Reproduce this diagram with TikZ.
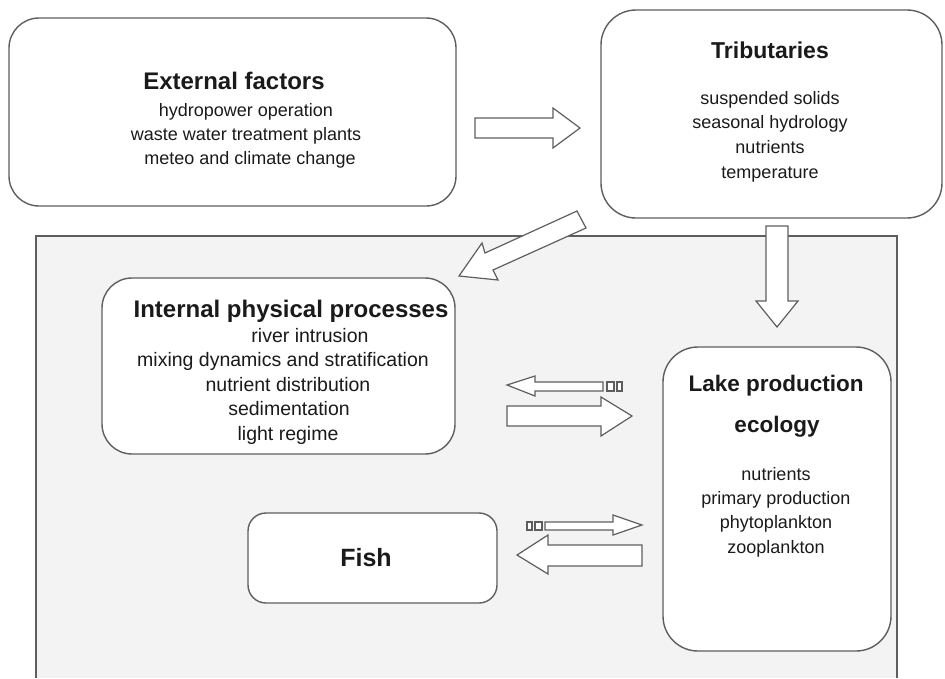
\documentclass[tikz,border=0pt]{standalone}
\usepackage{fontspec}
\setmainfont{Liberation Sans}
\definecolor{edge}{HTML}{5E5E5E}
\definecolor{bgfill}{HTML}{F3F3F3}
\definecolor{ink}{HTML}{1A1A1A}
\begin{document}
\begin{tikzpicture}[x=1pt,y=-1pt,
  box/.style={draw=edge, line width=1.4pt, fill=white, rounded corners=#1, inner sep=0pt},
  blk/.style={draw=edge, line width=1.2pt, fill=white, line join=miter},
  ttl/.style={anchor=base, text=ink, font=\fontsize{#1}{26}\selectfont\bfseries, inner sep=0pt},
  ttl/.default=22,
  txt/.style={anchor=base, text=ink, font=\fontsize{#1}{22}\selectfont, inner sep=0pt},
  txt/.default=18]
\useasboundingbox (0,0) rectangle (945,678);
% background frame
\fill[bgfill] (36,236) rectangle (897,678);
\draw[edge, line width=1.8pt] (36,678) -- (36,236) -- (897,236) -- (897,678);
% boxes
\node[box=30pt, minimum width=447pt, minimum height=188pt] (ext) at (232.5,112) {};
\node[box=35pt, minimum width=341pt, minimum height=208pt] (trib) at (771.5,114) {};
\node[box=30pt, minimum width=353pt, minimum height=176pt] (int) at (278.5,366) {};
\node[box=35pt, minimum width=228pt, minimum height=304pt] (lake) at (777,499) {};
\node[box=18pt, minimum width=249pt, minimum height=90pt] (fish) at (372.5,558) {};
% texts
\node[ttl=24] (t1) at (234,89) {External factors};
\node[txt] (e1) at (246,116) {hydropower operation};
\node[txt] (e2) at (246,140) {waste water treatment plants};
\node[txt] (e3) at (250,164) {meteo and climate change};
\node[ttl=23] (t2) at (770,58) {Tributaries};
\node[txt] (r1) at (770,104) {suspended solids};
\node[txt] (r2) at (770,128) {seasonal hydrology};
\node[txt] (r3) at (770,153) {nutrients};
\node[txt] (r4) at (770,178) {temperature};
\node[ttl=24] (t3) at (291,317) {Internal physical processes};
\node[txt=19.5] (i1) at (310,342) {river intrusion};
\node[txt=19.5] (i2) at (283,366) {mixing dynamics and stratification};
\node[txt=19.5] (i3) at (288,391) {nutrient distribution};
\node[txt=19.5] (i4) at (289,415) {sedimentation};
\node[txt=19.5] (i5) at (288,440) {light regime};
\node[ttl=22.5] (t4) at (776,391) {Lake production};
\node[ttl=22.5] (t4b) at (777,432) {ecology};
\node[txt] (l1) at (776,480) {nutrients};
\node[txt] (l2) at (776,504) {primary production};
\node[txt] (l3) at (776,528) {phytoplankton};
\node[txt] (l4) at (776,553) {zooplankton};
\node[ttl=25] (t5) at (366,566) {Fish};
% block arrows
\draw[blk] (475,118) -- (553,118) -- (553,108) -- (580,128) -- (553,148) -- (553,138) -- (475,138) -- cycle;
\draw[blk] (766,226) -- (788,226) -- (788,301) -- (798,301) -- (777,327) -- (756,301) -- (766,301) -- cycle;
\draw[blk] (577,211) -- (586,228) -- (493,270) -- (498,280) -- (459,276) -- (482,243) -- (485,253) -- cycle;
% striped left arrow
\draw[blk] (507,385) -- (535,376) -- (535,382) -- (603,382) -- (603,391) -- (535,391) -- (535,396) -- cycle;
\draw[blk] (607,382) rectangle (614,391);
\draw[blk] (617,382) rectangle (622,391);
% big right arrow
\draw[blk] (507,406) -- (601,406) -- (601,397) -- (632,416) -- (601,436) -- (601,426) -- (507,426) -- cycle;
% striped right arrow
\draw[blk] (545,522) -- (613,522) -- (613,515) -- (642,525) -- (613,535) -- (613,530) -- (545,530) -- cycle;
\draw[blk] (527,522) rectangle (532,530);
\draw[blk] (535,522) rectangle (542,530);
% big left arrow
\draw[blk] (517,555) -- (548,535) -- (548,545) -- (642,545) -- (642,566) -- (548,566) -- (548,574) -- cycle;
\end{tikzpicture}
\end{document}
